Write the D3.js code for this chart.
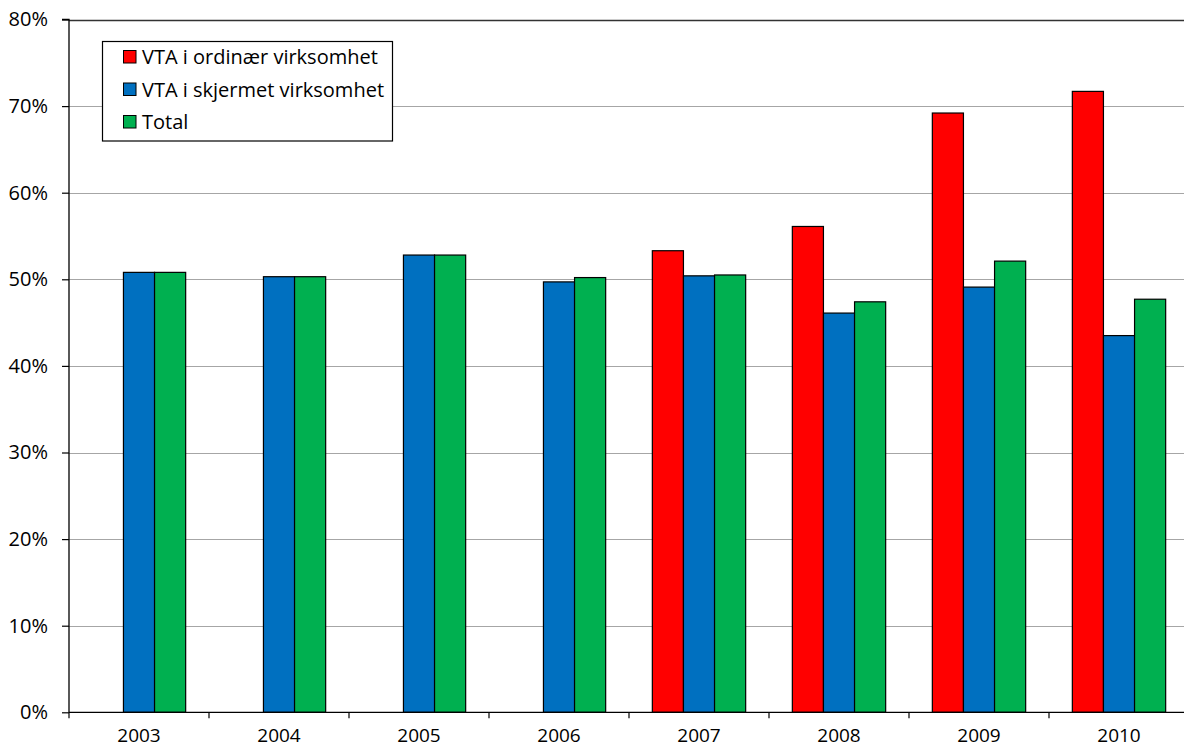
<!DOCTYPE html>
<html>
<head>
<meta charset="utf-8">
<script src="https://cdn.jsdelivr.net/npm/d3@7"></script>
<style>
  html, body { margin: 0; padding: 0; background: #fff; }
  svg { display: block; }
  text { font-family: "Open Sans", sans-serif; fill: #000; }
</style>
</head>
<body>
<svg id="chart" width="1184" height="749"></svg>
<script>
const years = ["2003", "2004", "2005", "2006", "2007", "2008", "2009", "2010"];
const seriesNames = ["VTA i ordinær virksomhet", "VTA i skjermet virksomhet", "Total"];
const seriesColors = ["#FF0000", "#0070C0", "#00B050"];
const ordinaer = [null, null, null, null, 53.3, 56.1, 69.2, 71.7];
const skjermet = [50.8, 50.3, 52.8, 49.7, 50.4, 46.1, 49.1, 43.5];
const total = [50.8, 50.3, 52.8, 50.2, 50.5, 47.4, 52.1, 47.7];
const yTicks = [0, 10, 20, 30, 40, 50, 60, 70, 80];

const seriesValues = [ordinaer, skjermet, total];

const svg = d3.select("#chart");
const x0 = 69, x1 = 1189, yTop = 19.5, yBottom = 712.3;
const FS = "20px";

const x = d3.scaleBand().domain(years).range([x0, x1]).paddingInner(0).paddingOuter(0);
const bandW = x.bandwidth();
const barW = bandW / 4.5;
const groupOffset = (bandW - 3 * barW) / 2;
const y = d3.scaleLinear().domain([0, 80]).range([yBottom, yTop]);

// gridlines
svg.append("g").selectAll("line").data(yTicks.filter(d => d > 0)).join("line")
  .attr("x1", x0).attr("x2", 1184)
  .attr("y1", d => Math.round(y(d)) + 0.5).attr("y2", d => Math.round(y(d)) + 0.5)
  .attr("stroke", d => d === 80 ? "#333" : "#a6a6a6")
  .attr("stroke-width", d => d === 80 ? 1.5 : 1.2);

// bars
const barData = [];
seriesValues.forEach((vals, si) => {
  vals.forEach((v, i) => {
    if (v !== null) barData.push({ year: years[i], si, v });
  });
});
svg.append("g").selectAll("rect").data(barData).join("rect")
  .attr("x", d => x(d.year) + groupOffset + d.si * barW)
  .attr("y", d => y(d.v))
  .attr("width", barW)
  .attr("height", d => y(0) - y(d.v))
  .attr("fill", d => seriesColors[d.si])
  .attr("stroke", "#000")
  .attr("stroke-width", 1.2);

// y axis
const yAxis = d3.axisLeft(y).tickValues(yTicks).tickSize(7).tickPadding(14)
  .tickFormat(d => d + "%");
const gy = svg.append("g").attr("transform", `translate(${x0},0)`).call(yAxis);
gy.select(".domain").attr("stroke", "#000").attr("stroke-width", 1.3).attr("d", `M-7,${yTop}H0V${yBottom}`);
gy.selectAll(".tick line").attr("stroke", "#000").attr("stroke-width", 1.2);
gy.selectAll(".tick text").style("font-size", FS).style("font-family", "'Open Sans', sans-serif").attr("fill", "#000");

// x axis
const gx = svg.append("g").attr("transform", `translate(0,${yBottom})`);
gx.append("line").attr("x1", x0).attr("x2", 1184).attr("y1", 0).attr("y2", 0)
  .attr("stroke", "#000").attr("stroke-width", 1.3);
gx.selectAll("line.tk").data(years).join("line").attr("class", "tk")
  .attr("x1", d => x(d)).attr("x2", d => x(d)).attr("y1", 0).attr("y2", 6)
  .attr("stroke", "#000").attr("stroke-width", 1.2);
gx.selectAll("text").data(years).join("text")
  .attr("x", d => x(d) + bandW / 2).attr("y", 30)
  .attr("text-anchor", "middle")
  .style("font-size", "19px")
  .text(d => d);

// legend
const lg = svg.append("g");
lg.append("rect").attr("x", 102.5).attr("y", 41.5).attr("width", 290).attr("height", 99.5)
  .attr("fill", "#fff").attr("stroke", "#000").attr("stroke-width", 1.2);
seriesNames.forEach((name, i) => {
  const cy = 57 + i * 32.5;
  lg.append("rect").attr("x", 123.5).attr("y", cy - 6.5).attr("width", 12.5).attr("height", 12.5)
    .attr("fill", seriesColors[i]).attr("stroke", "#000").attr("stroke-width", 1);
  lg.append("text").attr("x", 142).attr("y", cy + 7).style("font-size", FS).text(name);
});
</script>
</body>
</html>
